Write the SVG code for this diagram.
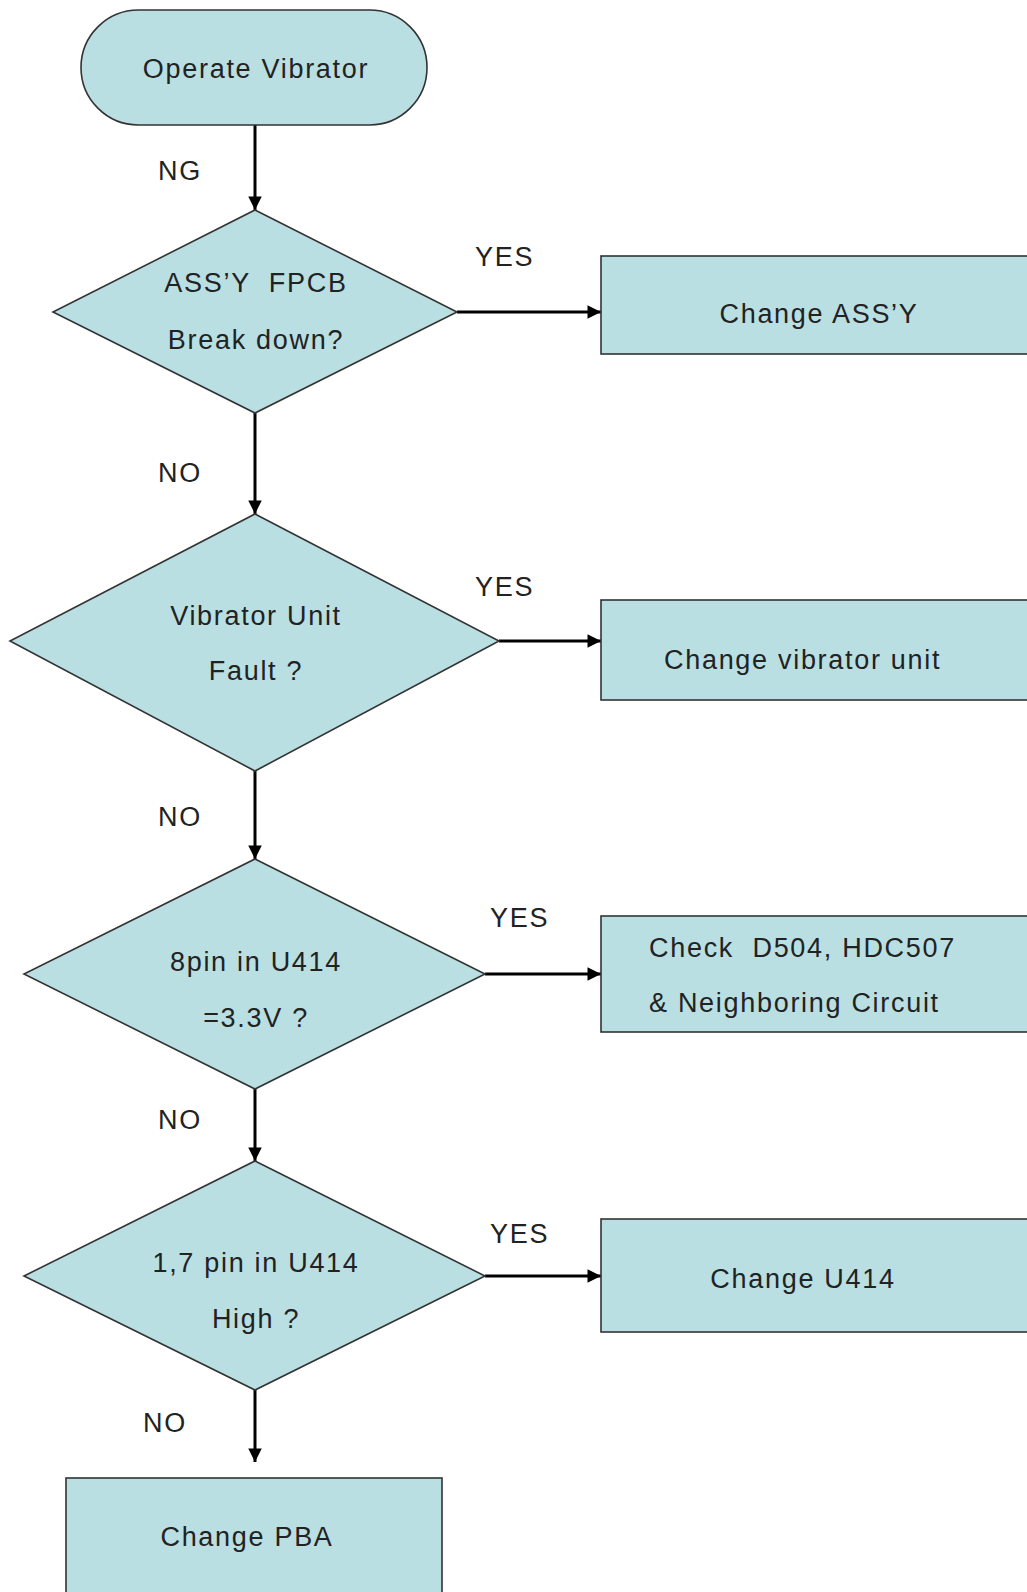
<svg xmlns="http://www.w3.org/2000/svg" width="1027" height="1592" viewBox="0 0 1027 1592">
<style>
.shape{fill:#b9dfe2;stroke:#333;stroke-width:1.6}
.t{font-family:"Liberation Sans",Arial,sans-serif;font-size:27px;fill:#222;letter-spacing:1.7px;white-space:pre}
.c{text-anchor:middle}
.con line{stroke:#000;stroke-width:3}
</style>
<defs>
<marker id="ah" viewBox="0 0 10 10" refX="10" refY="5" markerWidth="5" markerHeight="4.5" markerUnits="strokeWidth" orient="auto">
<path d="M0,0 L10,5 L0,10 z" fill="#000"/>
</marker>
</defs>
<rect width="1027" height="1592" fill="#fff"/>
<g id="connectors" class="con">
<line x1="255" y1="125" x2="255" y2="210" marker-end="url(#ah)"/>
<line x1="457" y1="312" x2="601" y2="312" marker-end="url(#ah)"/>
<line x1="255" y1="413" x2="255" y2="514" marker-end="url(#ah)"/>
<line x1="499" y1="641" x2="601" y2="641" marker-end="url(#ah)"/>
<line x1="255" y1="771" x2="255" y2="859" marker-end="url(#ah)"/>
<line x1="485" y1="974" x2="601" y2="974" marker-end="url(#ah)"/>
<line x1="255" y1="1089" x2="255" y2="1161" marker-end="url(#ah)"/>
<line x1="485" y1="1276" x2="601" y2="1276" marker-end="url(#ah)"/>
<line x1="255" y1="1390" x2="255" y2="1462" marker-end="url(#ah)"/>
<text class="t" x="158" y="180">NG</text>
<text class="t" x="475" y="266">YES</text>
<text class="t" x="158" y="482">NO</text>
<text class="t" x="475" y="596">YES</text>
<text class="t" x="158" y="826">NO</text>
<text class="t" x="490" y="927">YES</text>
<text class="t" x="158" y="1129">NO</text>
<text class="t" x="490" y="1243">YES</text>
<text class="t" x="143" y="1432">NO</text>
</g>
<g id="start">
<rect class="shape" x="81" y="10" width="346" height="115" rx="57.5" ry="57.5"/>
<text class="t c" x="256" y="78">Operate Vibrator</text>
</g>
<g id="d1">
<polygon class="shape" points="255,210 457,312 255,413 53,312"/>
<text class="t c" x="256" y="292">ASS’Y  FPCB</text>
<text class="t c" x="256" y="349">Break down?</text>
</g>
<g id="b1">
<rect class="shape" x="601" y="256" width="440" height="98"/>
<text class="t c" x="819" y="323">Change ASS’Y</text>
</g>
<g id="d2">
<polygon class="shape" points="255,514 499,641 255,771 10,641"/>
<text class="t c" x="256" y="625">Vibrator Unit</text>
<text class="t c" x="256" y="680">Fault ?</text>
</g>
<g id="b2">
<rect class="shape" x="601" y="600" width="440" height="100"/>
<text class="t" x="664" y="669">Change vibrator unit</text>
</g>
<g id="d3">
<polygon class="shape" points="255,859 485,974 255,1089 24,974"/>
<text class="t c" x="256" y="971">8pin in U414</text>
<text class="t c" x="256" y="1027">=3.3V ?</text>
</g>
<g id="b3">
<rect class="shape" x="601" y="916" width="440" height="116"/>
<text class="t" x="649" y="957">Check  D504, HDC507</text>
<text class="t" x="649" y="1012">&amp; Neighboring Circuit</text>
</g>
<g id="d4">
<polygon class="shape" points="255,1161 485,1276 255,1390 24,1276"/>
<text class="t c" x="256" y="1272">1,7 pin in U414</text>
<text class="t c" x="256" y="1328">High ?</text>
</g>
<g id="b4">
<rect class="shape" x="601" y="1219" width="440" height="113"/>
<text class="t c" x="803" y="1288">Change U414</text>
</g>
<g id="b5">
<rect class="shape" x="66" y="1478" width="376" height="130"/>
<text class="t c" x="247" y="1546">Change PBA</text>
</g>
</svg>
